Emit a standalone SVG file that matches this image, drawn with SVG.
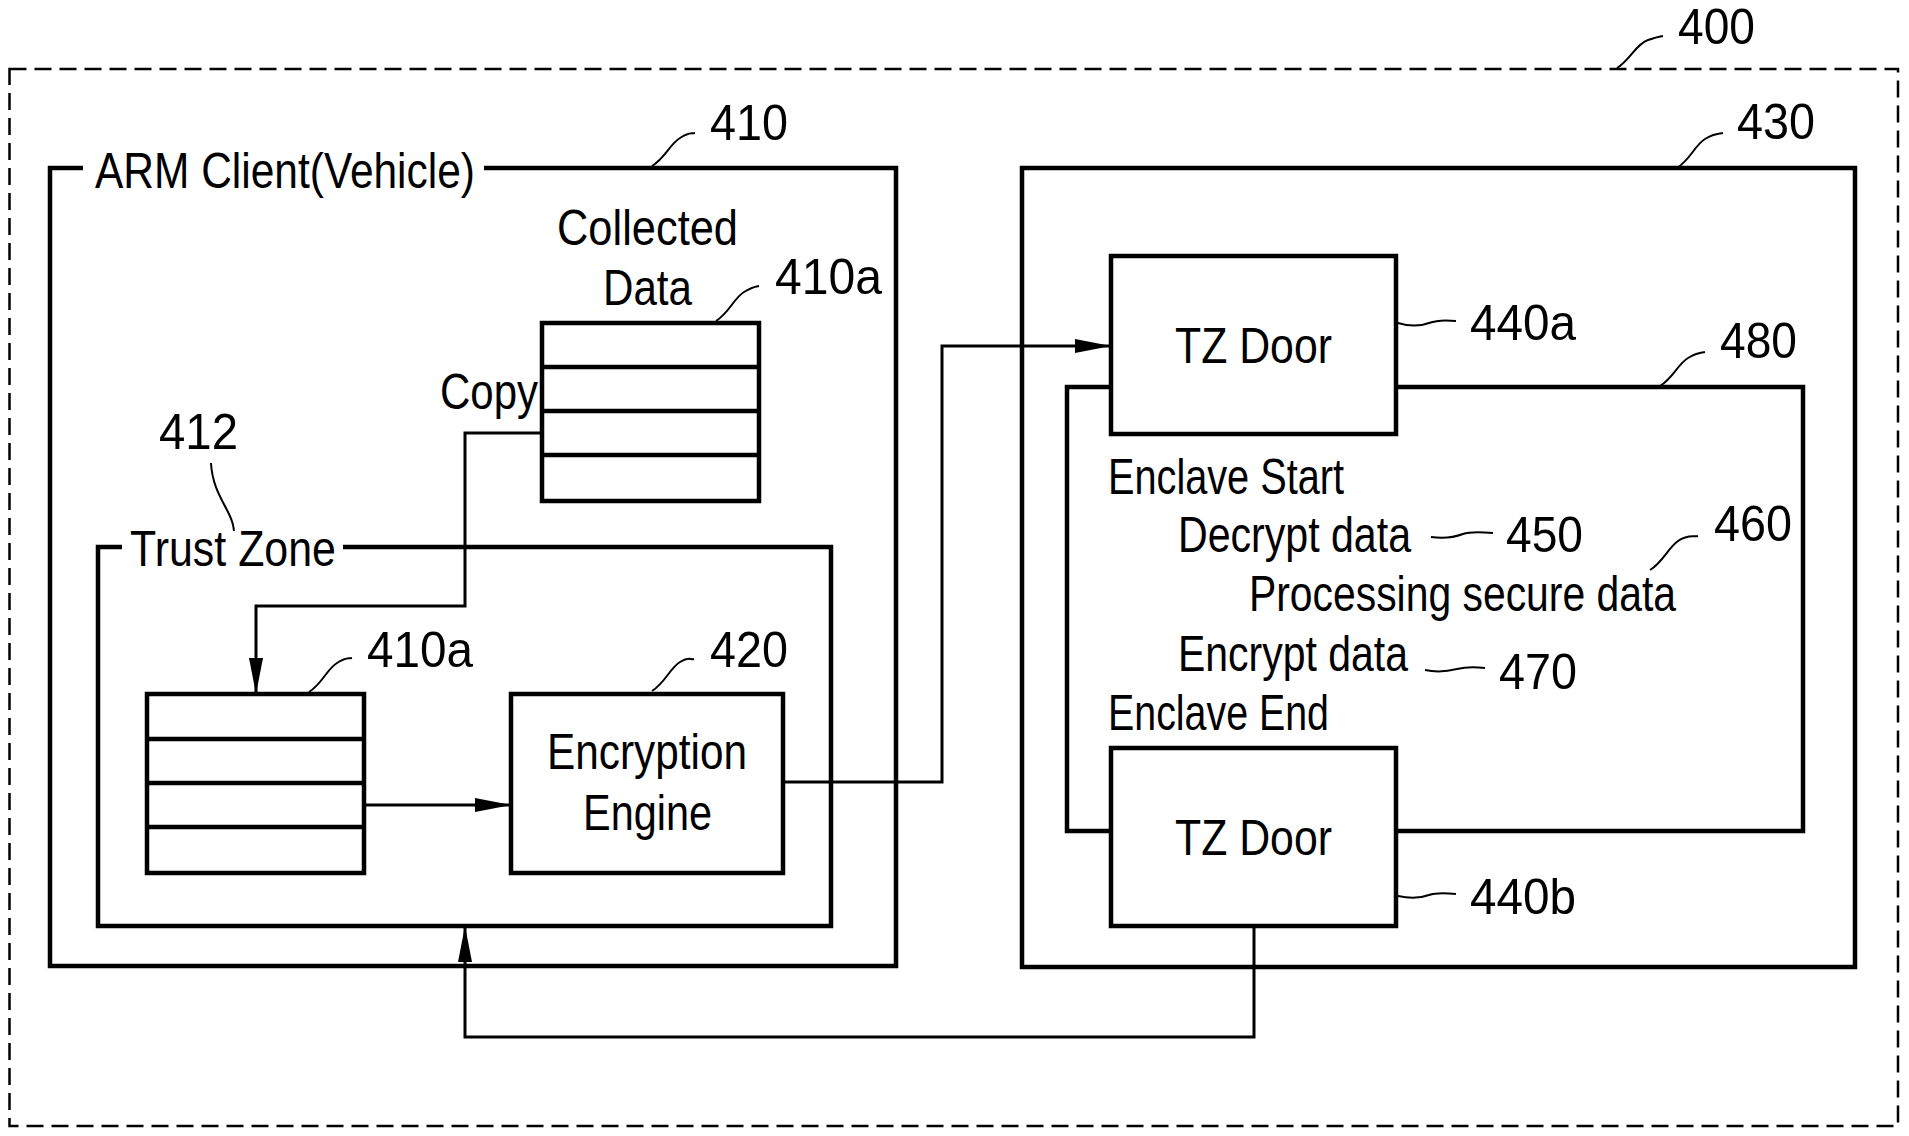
<svg xmlns="http://www.w3.org/2000/svg" width="1909" height="1136" viewBox="0 0 1909 1136">
<style>
.box{fill:none;stroke:#000;stroke-width:4.5;stroke-linejoin:miter}
.wbox{fill:#fff;stroke:#000;stroke-width:4.5}
.conn{fill:none;stroke:#000;stroke-width:3}
.lead{fill:none;stroke:#000;stroke-width:2}
.dash{fill:none;stroke:#000;stroke-width:2.5;stroke-dasharray:17 8}
text{font-family:"Liberation Sans",Arial,sans-serif;font-size:50px;fill:#000}
</style>
<defs>
<marker id="ah" markerUnits="userSpaceOnUse" markerWidth="36" markerHeight="14" refX="36" refY="7" orient="auto">
<path d="M0,0 L36,7 L0,14 z" fill="#000"/>
</marker>
</defs>
<rect fill="#fff" width="1909" height="1136"/>

<g id="n400">
<rect class="dash" x="9.5" y="69" width="1888.5" height="1057"/>
<text x="1678" y="44" font-size="48" textLength="77" lengthAdjust="spacingAndGlyphs">400</text>
<path class="lead" d="M1617,68 C1630,60 1636,44 1648,40 S1658,37 1663,36"/>
</g>

<g id="n410">
<path class="box" d="M83,168 H50 V966 H896 V168 H484"/>
<text x="95" y="188" textLength="380" lengthAdjust="spacingAndGlyphs">ARM Client(Vehicle)</text>
<text x="710" y="140" textLength="78" lengthAdjust="spacingAndGlyphs">410</text>
<path class="lead" d="M652,166 C665,158 670,144 680,138 S690,134 695,133"/>
</g>

<g id="n410a_top">
<rect class="box" x="542" y="323" width="217" height="178"/>
<path class="box" d="M542,367 H759 M542,411 H759 M542,455 H759"/>
<text x="557" y="245" textLength="181" lengthAdjust="spacingAndGlyphs">Collected</text>
<text x="603" y="305" textLength="89" lengthAdjust="spacingAndGlyphs">Data</text>
<text x="775" y="294" textLength="107" lengthAdjust="spacingAndGlyphs">410a</text>
<path class="lead" d="M716,321 C729,313 734,298 744,292 S754,287 759,286"/>
<text x="440" y="409" textLength="98" lengthAdjust="spacingAndGlyphs">Copy</text>
</g>

<g id="n412">
<path class="box" d="M122,547 H98 V926 H831 V547 H343"/>
<text x="130" y="566" textLength="206" lengthAdjust="spacingAndGlyphs">Trust Zone</text>
<text x="159" y="449" textLength="79" lengthAdjust="spacingAndGlyphs">412</text>
<path class="lead" d="M211,463 C212,485 222,500 228,512 S233,525 234,531"/>
</g>

<g id="n410a_bottom">
<rect class="box" x="147" y="694" width="217" height="179"/>
<path class="box" d="M147,739 H364 M147,783 H364 M147,827 H364"/>
<text x="367" y="667" textLength="106" lengthAdjust="spacingAndGlyphs">410a</text>
<path class="lead" d="M309,692 C322,684 327,669 337,663 S347,659 352,658"/>
</g>

<g id="n420">
<rect class="box" x="511" y="694" width="272" height="179"/>
<text x="547" y="769" textLength="200" lengthAdjust="spacingAndGlyphs">Encryption</text>
<text x="583" y="830" textLength="129" lengthAdjust="spacingAndGlyphs">Engine</text>
<text x="710" y="667" textLength="78" lengthAdjust="spacingAndGlyphs">420</text>
<path class="lead" d="M652,691 C665,683 670,668 680,662 S690,660 694,659"/>
</g>

<g id="n430">
<rect class="box" x="1022" y="168" width="833" height="799"/>
<text x="1737" y="139" textLength="78" lengthAdjust="spacingAndGlyphs">430</text>
<path class="lead" d="M1677,168 C1690,160 1695,145 1705,139 S1718,134 1723,133"/>
</g>

<g id="n480">
<rect class="box" x="1067" y="387" width="736" height="444"/>
<text x="1720" y="358" textLength="77" lengthAdjust="spacingAndGlyphs">480</text>
<path class="lead" d="M1660,386 C1673,378 1678,364 1688,358 S1700,353 1705,352"/>
<text x="1108" y="494" textLength="236" lengthAdjust="spacingAndGlyphs">Enclave Start</text>
<text x="1108" y="730" textLength="221" lengthAdjust="spacingAndGlyphs">Enclave End</text>
</g>

<g id="n450">
<text x="1178" y="552" textLength="233" lengthAdjust="spacingAndGlyphs">Decrypt data</text>
<text x="1506" y="552" textLength="77" lengthAdjust="spacingAndGlyphs">450</text>
<path class="lead" d="M1431,537 C1445,539 1455,537 1463,534 S1482,532 1493,533"/>
</g>

<g id="n460">
<text x="1249" y="611" textLength="427" lengthAdjust="spacingAndGlyphs">Processing secure data</text>
<text x="1714" y="541" textLength="78" lengthAdjust="spacingAndGlyphs">460</text>
<path class="lead" d="M1650,570 C1663,562 1668,548 1678,541 S1693,537 1698,536"/>
</g>

<g id="n470">
<text x="1178" y="671" textLength="230" lengthAdjust="spacingAndGlyphs">Encrypt data</text>
<text x="1499" y="689" textLength="78" lengthAdjust="spacingAndGlyphs">470</text>
<path class="lead" d="M1425,670 C1439,673 1449,671 1457,669 S1476,667 1485,668"/>
</g>

<g id="n440a">
<rect class="wbox" x="1111" y="256" width="285" height="178"/>
<text x="1175" y="363" textLength="157" lengthAdjust="spacingAndGlyphs">TZ Door</text>
<text x="1470" y="340" textLength="106" lengthAdjust="spacingAndGlyphs">440a</text>
<path class="lead" d="M1398,323 C1411,327 1421,326 1429,323 S1447,320 1456,321"/>
</g>

<g id="n440b">
<rect class="wbox" x="1111" y="748" width="285" height="178"/>
<text x="1175" y="855" textLength="157" lengthAdjust="spacingAndGlyphs">TZ Door</text>
<text x="1470" y="914" textLength="106" lengthAdjust="spacingAndGlyphs">440b</text>
<path class="lead" d="M1398,896 C1411,899 1421,898 1429,895 S1447,893 1456,894"/>
</g>

<g id="connectors">
<path class="conn" d="M542,433 H465 V606 H256 V694" marker-end="url(#ah)"/>
<path class="conn" d="M364,805 H511" marker-end="url(#ah)"/>
<path class="conn" d="M783,782 H942 V346 H1111" marker-end="url(#ah)"/>
<path class="conn" d="M1254,926 V1037 H465 V926" marker-end="url(#ah)"/>
</g>
</svg>
